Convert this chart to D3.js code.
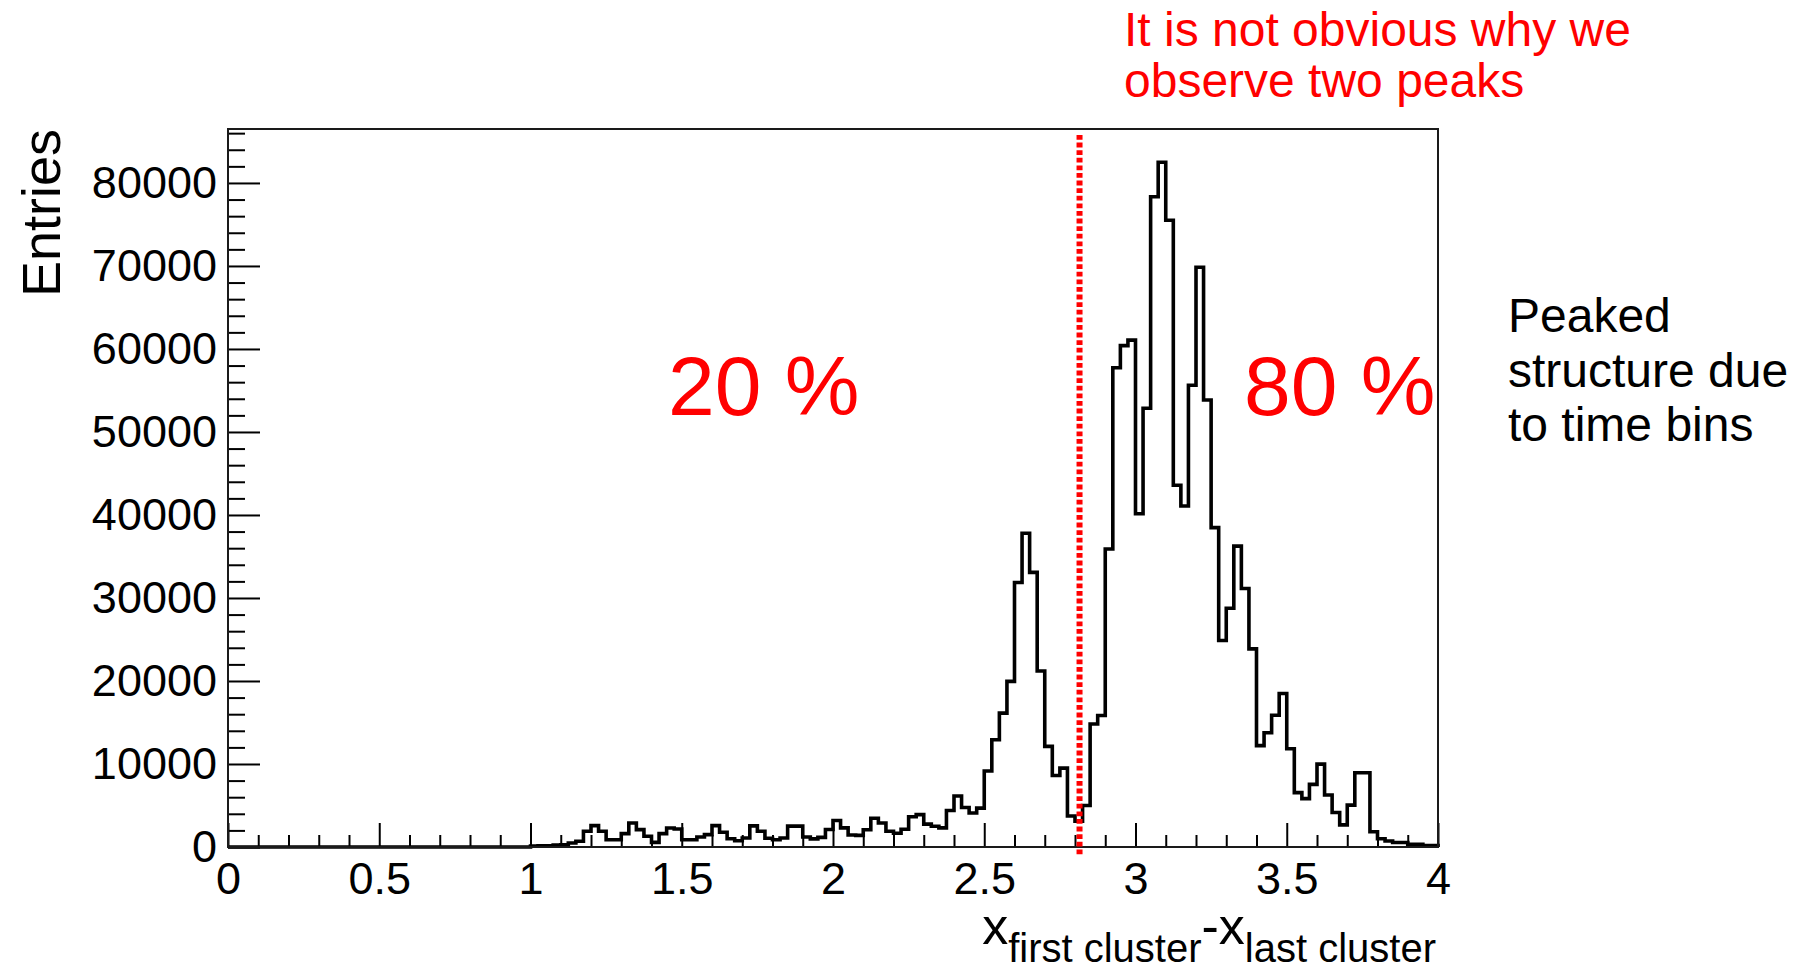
<!DOCTYPE html>
<html>
<head>
<meta charset="utf-8">
<script src="https://cdn.jsdelivr.net/npm/d3@7"></script>
<style>
  html, body { margin: 0; padding: 0; background: #ffffff; }
  svg { display: block; font-family: "Liberation Sans", Arial, Helvetica, sans-serif; }
</style>
</head>
<body>
<svg id="chart" width="1807" height="973"></svg>
<script>
// Histogram binning: 160 bins of width 0.025 between 0 and 4
const binLow = 0;
const binHigh = 4;
const binWidth = 0.025;

// Entries per bin, bins 0..39 (x < 1.0) are empty
const emptyBins = 40;
const entriesFrom1 = [
  100, 150, 150, 250, 280, 480, 700, 1900, 2570, 1890,          // 1.000 - 1.250
  880, 880, 1610, 2890, 2090, 1290, 560, 1610, 2290, 2170,      // 1.250 - 1.500
  880, 880, 1210, 1490, 2570, 1770, 1000, 760, 1080, 2550,      // 1.500 - 1.750
  1900, 1050, 880, 1080, 2520, 2520, 1200, 980, 1160, 2100,     // 1.750 - 2.000
  3190, 2300, 1450, 1400, 2070, 3470, 2900, 1900, 1650, 2130,   // 2.000 - 2.250
  3640, 3900, 2750, 2500, 2300, 4400, 6150, 4750, 4100, 4680,   // 2.250 - 2.500
  9150, 12920, 16130, 19950, 31870, 37800, 33080, 21200, 12120, 8620, // 2.500 - 2.750
  9500, 3730, 3120, 5000, 14820, 15850, 35900, 57740, 60400, 61070,   // 2.750 - 3.000
  40140, 52850, 78340, 82500, 75500, 43580, 41080, 55630, 69840, 53850, // 3.000 - 3.250
  38480, 24870, 28760, 36250, 31150, 23870, 12210, 13770, 15880, 18490, // 3.250 - 3.500
  11830, 6550, 5830, 7550, 9990, 6270, 4160, 2660, 5050, 8940,  // 3.500 - 3.750
  8940, 1830, 1000, 720, 550, 550, 330, 330, 170, 170           // 3.750 - 4.000
];
const entries = new Array(emptyBins).fill(0).concat(entriesFrom1);

// Axis ticks and labels
const xTickValues = [0, 0.5, 1, 1.5, 2, 2.5, 3, 3.5, 4];
const xTickLabels = ["0", "0.5", "1", "1.5", "2", "2.5", "3", "3.5", "4"];
const xMinorStep = 0.1;
const yTickValues = [0, 10000, 20000, 30000, 40000, 50000, 60000, 70000, 80000];
const yTickLabels = ["0", "10000", "20000", "30000", "40000", "50000", "60000", "70000", "80000"];
const yMinorStep = 2000;
const yMax = 86500;

// Separation cut and annotation texts
const cutPosition = 2.815;
const shareLeft = "20 %";
const shareRight = "80 %";
const noteTop = ["It is not obvious why we", "observe two peaks"];
const noteSide = ["Peaked", "structure due", "to time bins"];
const yTitle = "Entries";

// ---------------------------------------------------------------
const svg = d3.select("#chart");
const frame = { left: 228, top: 129, right: 1438, bottom: 847 };
const W = frame.right - frame.left;
const H = frame.bottom - frame.top;

const x = d3.scaleLinear().domain([binLow, binHigh]).range([0, W]);
const y = d3.scaleLinear().domain([0, yMax]).range([H, 0]);

const g = svg.append("g").attr("transform", `translate(${frame.left},${frame.top})`);

// Step outline of the histogram
const steps = [[binLow, 0]];
entries.forEach((v, i) => {
  steps.push([binLow + i * binWidth, v]);
  steps.push([binLow + (i + 1) * binWidth, v]);
});
steps.push([binHigh, 0]);

g.append("path")
  .datum(steps)
  .attr("fill", "none")
  .attr("stroke", "#000")
  .attr("stroke-width", 3.6)
  .attr("stroke-linejoin", "miter")
  .attr("d", d3.line().x(d => x(d[0])).y(d => y(d[1])));

// Minor ticks
const yMinor = d3.range(0, yMax + 1, yMinorStep).filter(v => v % 10000 !== 0);
g.append("g")
  .call(d3.axisLeft(y).tickValues(yMinor).tickSize(-17).tickFormat(""))
  .call(a => a.select(".domain").remove())
  .call(a => a.selectAll("line").attr("stroke", "#000").attr("stroke-width", 2));

const xMinor = d3.range(0, 41).map(k => k * xMinorStep).filter(v => Math.abs(v * 2 - Math.round(v * 2)) > 1e-6);
g.append("g")
  .attr("transform", `translate(0,${H})`)
  .call(d3.axisBottom(x).tickValues(xMinor).tickSize(-12).tickFormat(""))
  .call(a => a.select(".domain").remove())
  .call(a => a.selectAll("line").attr("stroke", "#000").attr("stroke-width", 2));

// Major ticks with labels
g.append("g")
  .call(d3.axisLeft(y).tickValues(yTickValues).tickSize(-32).tickPadding(11)
    .tickFormat((d, i) => yTickLabels[i]))
  .call(a => a.select(".domain").remove())
  .call(a => a.selectAll("line").attr("stroke", "#000").attr("stroke-width", 2))
  .call(a => a.selectAll("text")
    .attr("fill", "#000")
    .attr("font-size", 45)
    .attr("font-family", "'Liberation Sans', Arial, sans-serif"));

g.append("g")
  .attr("transform", `translate(0,${H})`)
  .call(d3.axisBottom(x).tickValues(xTickValues).tickSize(-24).tickPadding(15)
    .tickFormat((d, i) => xTickLabels[i]))
  .call(a => a.select(".domain").remove())
  .call(a => a.selectAll("line").attr("stroke", "#000").attr("stroke-width", 2))
  .call(a => a.selectAll("text")
    .attr("fill", "#000")
    .attr("font-size", 45)
    .attr("font-family", "'Liberation Sans', Arial, sans-serif"));

// Frame
g.append("rect")
  .attr("x", 0).attr("y", 0).attr("width", W).attr("height", H)
  .attr("fill", "none").attr("stroke", "#1a1a1a").attr("stroke-width", 2);

// Dotted separation line
g.append("line")
  .attr("x1", x(cutPosition)).attr("x2", x(cutPosition))
  .attr("y1", y(yMax) + 6).attr("y2", H + 8)
  .attr("stroke", "#ff0000")
  .attr("stroke-width", 6)
  .attr("stroke-dasharray", "4.8,2.8");

// Axis titles
svg.append("text")
  .attr("transform", `translate(60,${frame.top}) rotate(-90)`)
  .attr("text-anchor", "end")
  .attr("font-size", 54)
  .attr("fill", "#000")
  .text(yTitle);

const xt = svg.append("text")
  .attr("x", frame.right - 2)
  .attr("y", 944)
  .attr("text-anchor", "end")
  .attr("fill", "#000")
  .attr("font-size", 52);
xt.append("tspan").text("x");
xt.append("tspan").attr("font-size", 40).attr("dy", 18).text("first cluster");
xt.append("tspan").attr("dy", -18).text("-x");
xt.append("tspan").attr("font-size", 40).attr("dy", 18).text("last cluster");

// Fractions on each side of the cut
svg.append("text")
  .attr("x", 668).attr("y", 415)
  .attr("font-size", 84).attr("fill", "#ff0000")
  .text(shareLeft);
svg.append("text")
  .attr("x", 1244).attr("y", 415)
  .attr("font-size", 84).attr("fill", "#ff0000")
  .text(shareRight);

// Notes
svg.append("g").selectAll("text")
  .data(noteTop).join("text")
  .attr("x", 1124).attr("y", (d, i) => 46 + i * 51)
  .attr("font-size", 48).attr("fill", "#ff0000")
  .text(d => d);

svg.append("g").selectAll("text")
  .data(noteSide).join("text")
  .attr("x", 1508).attr("y", (d, i) => 332 + i * 54.5)
  .attr("font-size", 48).attr("fill", "#000")
  .text(d => d);
</script>
</body>
</html>
